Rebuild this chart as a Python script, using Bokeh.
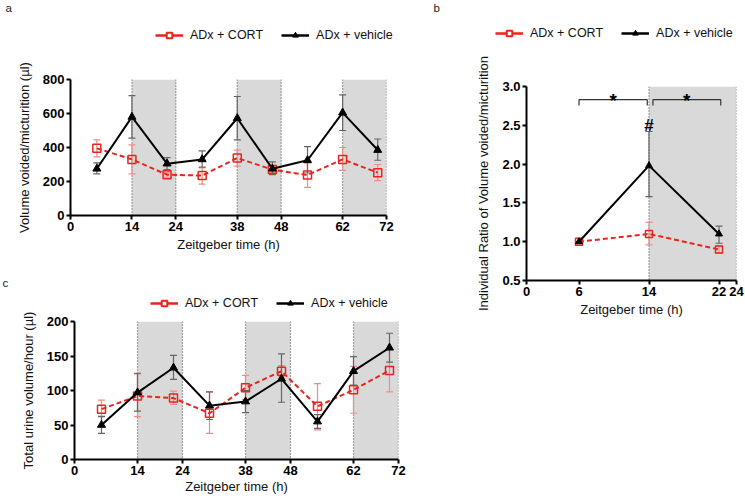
from bokeh.plotting import figure
from bokeh.models import (ColumnDataSource, Whisker, TeeHead, Legend, LegendItem, Label,
                          Span, BoxAnnotation, FixedTicker, Range1d, NumeralTickFormatter)
from bokeh.layouts import row, column
from bokeh.embed import file_html
from bokeh.resources import INLINE
from bokeh.core.properties import value

# ---------------- data ----------------
zt = [6, 14, 22, 30, 38, 46, 54, 62, 70]
dark_periods = [(14, 24), (38, 48), (62, 72)]

# panel a: volume voided / micturition (µl)
a_veh = [275, 580, 305, 330, 572, 275, 325, 605, 385]
a_veh_lo = [245, 455, 270, 285, 445, 240, 250, 500, 325]
a_veh_hi = [310, 705, 340, 380, 700, 315, 405, 710, 450]
a_cort = [395, 330, 240, 235, 338, 270, 238, 330, 252]
a_cort_lo = [345, 245, 225, 185, 290, 255, 165, 265, 205]
a_cort_hi = [445, 415, 255, 280, 385, 290, 310, 400, 300]

# panel b: individual ratio
zt_b = [6, 14, 22]
b_veh = [1.0, 1.98, 1.1]
b_veh_lo = [1.0, 1.58, 0.98]
b_veh_hi = [1.0, 2.42, 1.2]
b_cort = [1.0, 1.1, 0.9]
b_cort_lo = [1.0, 0.96, 0.85]
b_cort_hi = [1.0, 1.25, 0.95]
b_dark = [(14, 24)]

# panel c: total urine volume / hour (µl)
c_veh = [50, 97, 133, 78, 84, 117, 55, 128, 162]
c_veh_lo = [38, 70, 116, 58, 68, 83, 45, 108, 141]
c_veh_hi = [62, 125, 151, 98, 100, 153, 65, 149, 183]
c_cort = [73, 92, 89, 67, 104, 128, 77, 101, 129]
c_cort_lo = [63, 62, 80, 38, 87, 120, 43, 67, 98]
c_cort_hi = [86, 124, 99, 98, 122, 136, 110, 135, 160]

ticks_72 = [0, 14, 24, 38, 48, 62, 72]
ticks_24 = [0, 6, 14, 22, 24]
legend_labels = ["ADx + CORT", "ADx + vehicle"]

FONT = "Liberation Sans"
RED = "#e8241c"
RED_ERR = "#f08c8c"
BLK_ERR = "#666666"
SHADE = "#d9d9d9"


def style(p, xticks, yticks, yfmt=None):
    p.frame_align = False
    p.xgrid.visible = False
    p.ygrid.visible = False
    p.outline_line_color = None
    p.background_fill_color = "white"
    p.border_fill_color = "white"
    for ax in (p.xaxis[0], p.yaxis[0]):
        ax.axis_line_width = 2
        ax.axis_line_color = "black"
        ax.major_tick_line_width = 2
        ax.major_tick_line_color = "black"
        ax.major_tick_out = 4
        ax.major_tick_in = 0
        ax.minor_tick_line_color = None
        ax.major_label_text_font = FONT
        ax.major_label_text_font_style = "bold"
        ax.major_label_text_font_size = "13px"
        ax.major_label_text_color = "black"
        ax.axis_label_text_font = FONT
        ax.axis_label_text_font_style = "normal"
        ax.axis_label_text_font_size = "13px"
        ax.axis_label_text_color = "#111111"
    p.xaxis[0].ticker = FixedTicker(ticks=xticks)
    p.yaxis[0].ticker = FixedTicker(ticks=yticks)
    p.xaxis[0].major_label_standoff = 2
    p.yaxis[0].major_label_standoff = 2
    p.xaxis[0].axis_label_standoff = 3
    p.yaxis[0].axis_label_standoff = 8
    if yfmt is not None:
        p.yaxis[0].formatter = NumeralTickFormatter(format=yfmt)


def shade(p, periods, ymin, ymax):
    for (l, r) in periods:
        p.add_layout(BoxAnnotation(left=l, right=r, bottom=ymin, top=ymax,
                                   fill_color=SHADE, fill_alpha=1.0, line_color=None,
                                   level="underlay"))
        for e in (l, r):
            p.add_layout(Span(location=e, dimension="height", line_color="#555555",
                              line_dash="1 2", line_width=1.2, level="underlay"))


def series(p, x, veh, veh_lo, veh_hi, cort, cort_lo, cort_hi, msize=8):
    sv = ColumnDataSource(dict(x=x, y=veh, lo=veh_lo, hi=veh_hi))
    sc = ColumnDataSource(dict(x=x, y=cort, lo=cort_lo, hi=cort_hi))
    p.add_layout(Whisker(source=sc, base="x", lower="lo", upper="hi",
                         line_color=RED_ERR, line_width=1.2,
                         upper_head=TeeHead(size=7, line_color=RED_ERR, line_width=1.2),
                         lower_head=TeeHead(size=7, line_color=RED_ERR, line_width=1.2)))
    p.add_layout(Whisker(source=sv, base="x", lower="lo", upper="hi",
                         line_color=BLK_ERR, line_width=1.2,
                         upper_head=TeeHead(size=7, line_color=BLK_ERR, line_width=1.2),
                         lower_head=TeeHead(size=7, line_color=BLK_ERR, line_width=1.2)))
    p.line("x", "y", source=sc, line_color=RED, line_width=2, line_dash="5 3")
    p.scatter("x", "y", source=sc, marker="square", size=msize, line_color=RED,
              line_width=1.5, fill_alpha=0.0)
    p.line("x", "y", source=sv, line_color="black", line_width=2)
    p.scatter("x", "y", source=sv, marker="triangle", size=msize,
              line_color="black", fill_color="black")
    return sc, sv


def header(width, height, letter, lx, ly, vx, vy, sc, sv):
    """A small strip above a panel holding its letter and its legend.
    The legend proxies reuse the panel's data; with this strip's 0..1 ranges
    they fall outside the view, so only the legend shows them."""
    h = figure(width=width, height=height, output_backend="svg", toolbar_location=None,
               x_range=Range1d(0, 1), y_range=Range1d(0, 1),
               x_axis_type=None, y_axis_type=None, min_border=0)
    h.frame_align = False
    h.xgrid.visible = False
    h.ygrid.visible = False
    h.outline_line_color = None
    lc = h.line("x", "y", source=sc, line_color=RED, line_width=2.5)
    mc = h.scatter("x", "y", source=sc, marker="square", size=10, line_color=RED,
                   line_width=2, fill_color="white")
    lv = h.line("x", "y", source=sv, line_color="black", line_width=2.5)
    mv = h.scatter("x", "y", source=sv, marker="triangle", size=11,
                   line_color="black", fill_color="black")
    leg = Legend(items=[LegendItem(label=legend_labels[0], renderers=[lc, mc]),
                        LegendItem(label=legend_labels[1], renderers=[lv, mv])],
                 orientation="horizontal", location=(vx, vy),
                 label_text_font=FONT, label_text_font_size="12.5px",
                 label_text_color="#111111",
                 glyph_width=28, glyph_height=14, label_standoff=7, spacing=18,
                 padding=0, margin=0, border_line_color=None,
                 background_fill_alpha=0.0, label_height=14)
    h.add_layout(leg)
    h.add_layout(Label(x=lx, y=ly, x_units="screen", y_units="screen", text=letter,
                       text_font=FONT, text_font_size="11.5px", text_color="#222222",
                       text_baseline="top"))
    return h


# ---------------- panel a ----------------
pa = figure(width=406, height=203, output_backend="svg", toolbar_location=None,
            x_range=Range1d(0, 72), y_range=Range1d(0, 800),
            min_border_left=70, min_border_right=20, min_border_top=21, min_border_bottom=46,
            x_axis_label="Zeitgeber time (h)",
            y_axis_label="Volume voided/micturition (µl)")
style(pa, ticks_72, [0, 200, 400, 600, 800])
shade(pa, dark_periods, 0, 800)
sc_a, sv_a = series(pa, zt, a_veh, a_veh_lo, a_veh_hi, a_cort, a_cort_lo, a_cort_hi)
ha = header(406, 58, "a", 5, 57, 155, 16, sc_a, sv_a)

# ---------------- panel c ----------------
pc = figure(width=406, height=186, output_backend="svg", toolbar_location=None,
            x_range=Range1d(0, 72), y_range=Range1d(0, 200),
            min_border_left=74, min_border_right=8, min_border_top=10, min_border_bottom=38,
            x_axis_label="Zeitgeber time (h)",
            y_axis_label="Total urine volume/hour (µl)")
style(pc, ticks_72, [0, 50, 100, 150, 200])
pc.xaxis[0].axis_label_standoff = 1
shade(pc, dark_periods, 0, 200)
sc_c, sv_c = series(pc, zt, c_veh, c_veh_lo, c_veh_hi, c_cort, c_cort_lo, c_cort_hi)
hc = header(406, 50, "c", 2, 35, 150, 1, sc_c, sv_c)

# ---------------- panel b ----------------
pb = figure(width=339, height=293, output_backend="svg", toolbar_location=None,
            x_range=Range1d(0, 24), y_range=Range1d(0.5, 3.0),
            min_border_left=120, min_border_right=9, min_border_top=41, min_border_bottom=58,
            x_axis_label="Zeitgeber time (h)",
            y_axis_label="Individual Ratio of Volume voided/micturition")
style(pb, ticks_24, [0.5, 1.0, 1.5, 2.0, 2.5, 3.0], yfmt="0.0")
shade(pb, b_dark, 0.5, 3.0)
sc_b, sv_b = series(pb, zt_b, b_veh, b_veh_lo, b_veh_hi, b_cort, b_cort_lo, b_cort_hi,
                    msize=7)
hb = header(339, 45, "b", 27, 44, 89, 5, sc_b, sv_b)

# significance brackets
br_left = [6, 13.8]
br_right = [14.45, 22.2]
br_y, br_tip = 2.83, 2.755
for (l, r) in (br_left, br_right):
    pb.multi_line(xs=[[l, l, r, r]], ys=[[br_tip, br_y, br_y, br_tip]],
                  line_color="#333333", line_width=1.2)
star_x = [9.9, 18.3]
star_y = [2.825, 2.825]
pb.text(x=star_x, y=star_y, text=["*", "*"], text_font=value(FONT), text_font_style="bold",
        text_font_size="19px", text_align="center", text_baseline="alphabetic",
        text_color="black")
pb.text(x=[14], y=[2.5], text=["#"], text_font=value(FONT), text_font_style="bold",
        text_font_size="17px", text_align="center", text_baseline="alphabetic",
        text_color="black")

layout = row(column(ha, pa, hc, pc), column(hb, pb))
open("out.html", "w").write(file_html(layout, INLINE))
